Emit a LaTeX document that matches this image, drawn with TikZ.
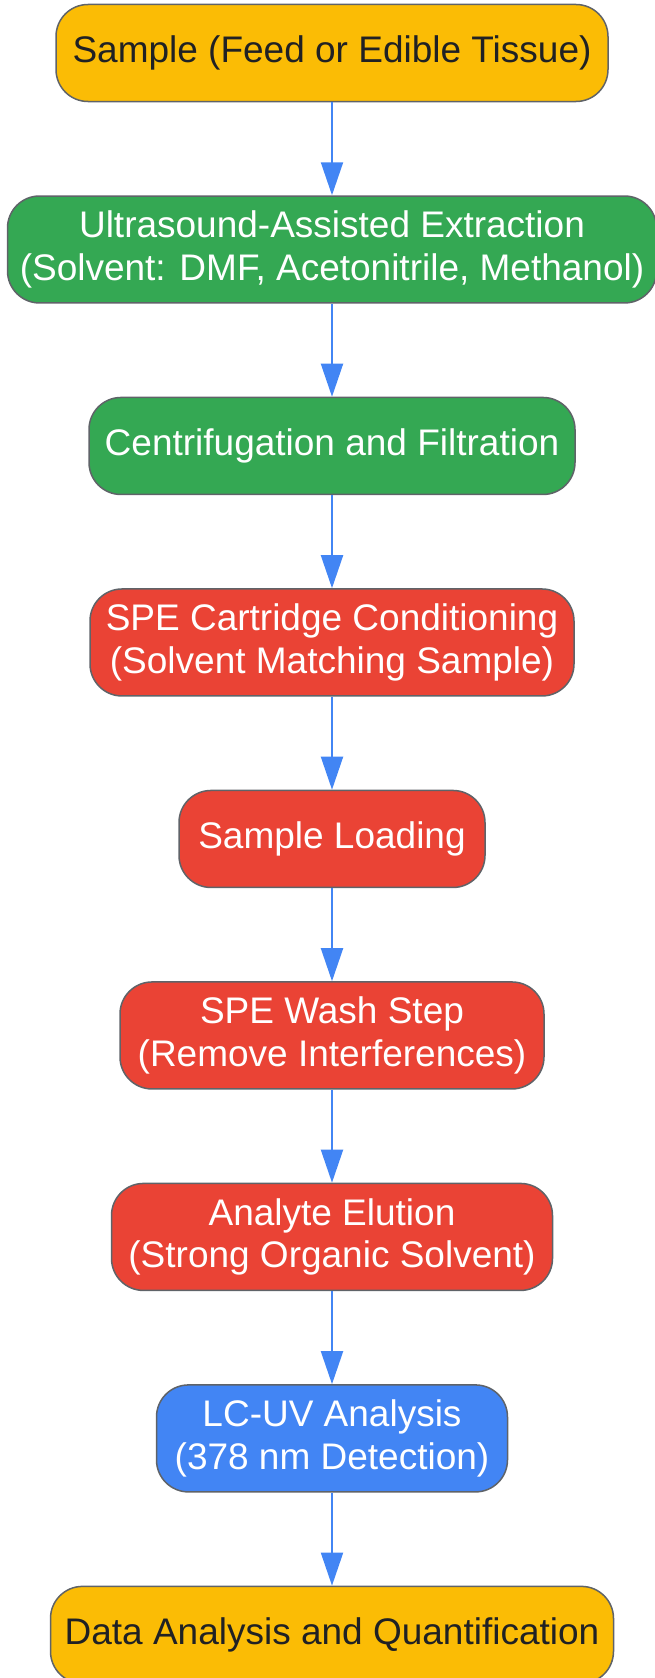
\documentclass[tikz,border=0pt]{standalone}
\usepackage{fontspec}
\setmainfont{Liberation Sans}
\usetikzlibrary{positioning}
\usetikzlibrary{arrows.meta}
\definecolor{feed}{HTML}{FBBC05}
\definecolor{prep}{HTML}{34A853}
\definecolor{spe}{HTML}{EA4335}
\definecolor{lcuv}{HTML}{4285F4}
\definecolor{rim}{HTML}{5F6368}
\definecolor{ink}{HTML}{202124}
\tikzstyle{stage} = [draw=rim, line width=1.5pt, rounded corners=32pt, align=center, minimum height=97pt, inner ysep=15pt, font=\fontsize{37}{42.5}\selectfont]
\tikzstyle{flow} = [-{Triangle[length=33pt,width=22pt]}, draw=lcuv, line width=2pt]

\begin{document}
\begin{tikzpicture}[node distance=93pt, x=1pt, y=1pt]
        \useasboundingbox (0,0) rectangle (655,-1678);
        \tikzstyle{light} = [stage, fill=feed, text=ink]
        \tikzstyle{dark} = [stage, text=white]

        \node[light, minimum width=552pt] (sample) at (332,-53) {Sample (Feed or Edible Tissue)};
        \node[dark, fill=prep, minimum width=649pt, below=of sample] (extract) {Ultrasound-Assisted Extraction\\(Solvent: DMF, Acetonitrile, Methanol)};
        \node[dark, fill=prep, minimum width=486pt, below=of extract] (clarify) {Centrifugation and Filtration};
        \node[dark, fill=spe, minimum width=484pt, below=of clarify] (condition) {SPE Cartridge Conditioning\\(Solvent Matching Sample)};
        \node[dark, fill=spe, minimum width=306pt, below=of condition] (load) {Sample Loading};
        \node[dark, fill=spe, minimum width=424pt, below=of load] (wash) {SPE Wash Step\\(Remove Interferences)};
        \node[dark, fill=spe, minimum width=441pt, below=of wash] (elute) {Analyte Elution\\(Strong Organic Solvent)};
        \node[dark, fill=lcuv, minimum width=351pt, below=of elute] (detect) {LC-UV Analysis\\(378 nm Detection)};
        \node[light, minimum width=563pt, below=of detect] (quant) {Data Analysis and Quantification};

        \foreach \from/\to in {sample/extract, extract/clarify, clarify/condition, condition/load, load/wash, wash/elute, elute/detect, detect/quant}
            \draw[flow] (\from) -- (\to);
\end{tikzpicture}
\end{document}
